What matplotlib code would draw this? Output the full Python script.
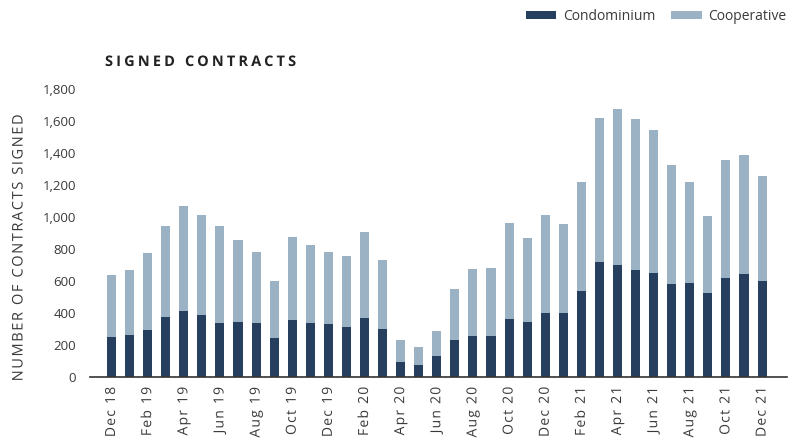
import matplotlib
matplotlib.use("Agg")
import matplotlib.pyplot as plt
import numpy as np
from matplotlib.patheffects import AbstractPathEffect
from matplotlib.path import Path

months = ["Dec 18", "Jan 19", "Feb 19", "Mar 19", "Apr 19", "May 19", "Jun 19", "Jul 19",
          "Aug 19", "Sep 19", "Oct 19", "Nov 19", "Dec 19", "Jan 20", "Feb 20", "Mar 20",
          "Apr 20", "May 20", "Jun 20", "Jul 20", "Aug 20", "Sep 20", "Oct 20", "Nov 20",
          "Dec 20", "Jan 21", "Feb 21", "Mar 21", "Apr 21", "May 21", "Jun 21", "Jul 21",
          "Aug 21", "Sep 21", "Oct 21", "Nov 21", "Dec 21"]
condo = [250, 265, 296, 377, 414, 389, 340, 344, 335, 242, 354, 335, 331, 310, 369, 298,
         92, 74, 132, 234, 254, 259, 360, 341, 400, 398, 539, 718, 701, 666, 653, 581,
         585, 522, 618, 641, 603]
total = [639, 670, 774, 942, 1070, 1012, 946, 857, 780, 601, 875, 825, 782, 759, 905, 730,
         229, 186, 285, 549, 678, 680, 961, 869, 1010, 956, 1216, 1617, 1673, 1610, 1542, 1328,
         1216, 1004, 1355, 1388, 1255]
coop = [t - c for t, c in zip(total, condo)]
yticks = [0, 200, 400, 600, 800, 1000, 1200, 1400, 1600, 1800]


class Tracking(AbstractPathEffect):
    """Letter-spacing for a text drawn as a path (text stays a real Text object)."""
    def __init__(self, text, frac, align='left'):
        super().__init__()
        self.text = text
        self.sp = frac * 100.0  # text paths use an em of 100 units
        self.align = align

    def draw_path(self, renderer, gc, tpath, affine, rgbFace=None):
        verts = np.array(tpath.vertices, dtype=float)
        codes = tpath.codes
        if codes is None or len(verts) == 0:
            renderer.draw_path(gc, tpath, affine, rgbFace)
            return
        starts = [i for i, c in enumerate(codes) if c == Path.MOVETO] + [len(codes)]
        cont = [(starts[k], starts[k + 1]) for k in range(len(starts) - 1)]
        bbs = [(verts[s:e, 0].min(), verts[s:e, 0].max(), verts[s:e, 1].min(), verts[s:e, 1].max())
               for s, e in cont]
        parent = list(range(len(cont)))
        for i, bi in enumerate(bbs):
            for j, bj in enumerate(bbs):
                if i != j and bj[0] <= bi[0] + 0.5 and bi[1] <= bj[1] + 0.5 and \
                        bj[2] <= bi[2] + 0.5 and bi[3] <= bj[3] + 0.5 and \
                        (bj[1] - bj[0]) * (bj[3] - bj[2]) > (bi[1] - bi[0]) * (bi[3] - bi[2]):
                    parent[i] = j
                    break
        outers = sorted([i for i in range(len(cont)) if parent[i] == i], key=lambda i: bbs[i][0])
        char_idx = [k for k, ch in enumerate(self.text) if not ch.isspace()]
        if len(char_idx) != len(outers):
            char_idx = list(range(len(outers)))
        n = len(self.text)
        off0 = {'left': 0.0, 'center': -(n - 1) * self.sp / 2, 'right': -(n - 1) * self.sp}[self.align]
        shift_of = {}
        for rank, o in enumerate(outers):
            shift_of[o] = char_idx[rank] * self.sp + off0
        for i in range(len(cont)):
            r = i
            while parent[r] != r:
                r = parent[r]
            s, e = cont[i]
            verts[s:e, 0] += shift_of.get(r, off0)
        renderer.draw_path(gc, Path(verts, codes), affine, rgbFace)


plt.rcParams['font.family'] = ['Open Sans', 'DejaVu Sans']
txt = '#3a3a3a'
c_condo = '#263f5f'
c_coop = '#9bb2c5'

fig = plt.figure(figsize=(7.92, 4.38), dpi=100)
ax = fig.add_axes([90/792, 61/438, (787-90)/792, (377-89)/438])
x = np.arange(len(months))
b1 = ax.bar(x, condo, width=0.5, color=c_condo, label='Condominium', linewidth=0)
b2 = ax.bar(x, coop, bottom=condo, width=0.5, color=c_coop, label='Cooperative', linewidth=0)

ax.set_xlim(-1.19, 37.38)
ax.set_ylim(0, 1800)
ax.set_yticks(yticks)
ax.set_yticklabels([f"{v:,}" for v in yticks], fontsize=9.5, color=txt)
ax.set_xticks(x[::2])
ax.set_xticklabels(months[::2], rotation=90, fontsize=10, color=txt)
for t in ax.get_xticklabels():
    t.set_path_effects([Tracking(t.get_text(), 0.09, align='right')])
ax.tick_params(axis='both', length=0)
ax.tick_params(axis='y', pad=10)
ax.tick_params(axis='x', pad=7)
for s in ['top', 'right', 'left']:
    ax.spines[s].set_visible(False)
ax.spines['bottom'].set_color('#333333')
ax.spines['bottom'].set_linewidth(1.2)

ylab = "NUMBER OF CONTRACTS SIGNED"
ax.set_ylabel(ylab, fontsize=10.5, color=txt)
ax.yaxis.label.set_path_effects([Tracking(ylab, 0.11, align='center')])
ax.yaxis.set_label_coords((26.5 - 90) / 697, (377 - 248) / 288)

title = "SIGNED CONTRACTS"
ttl = fig.text(105/792, 1 - 66/438, title, fontsize=10.5, fontweight='bold',
               color='#222222', va='baseline', ha='left')
ttl.set_path_effects([Tracking(title, 0.215, align='left')])

fig.legend(handles=[b1, b2], loc='center right', bbox_to_anchor=(786/792, 1 - 16/438), ncol=2,
           frameon=False, fontsize=10, handlelength=2.2, handleheight=0.5, columnspacing=1.15,
           handletextpad=0.45, labelcolor=txt, borderaxespad=0, borderpad=0)

fig.savefig("out.png", dpi=100)
